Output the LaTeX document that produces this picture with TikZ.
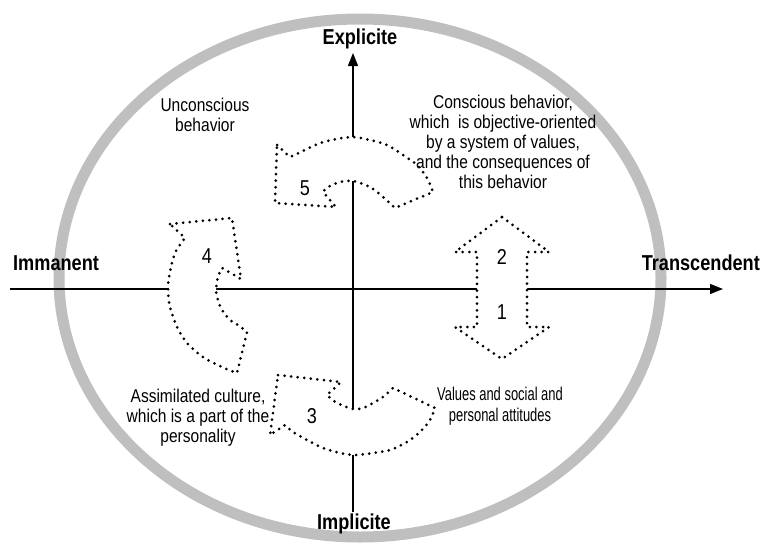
\documentclass[tikz,border=0pt]{standalone}
\usepackage{fontspec}
\setmainfont{Liberation Sans}[FakeStretch=0.84]
\newfontfamily\tightfont{Liberation Sans}[FakeStretch=0.70]
\usetikzlibrary{arrows.meta}

\tikzset{
  rim/.style={draw=black!25, line width=11pt},
  axis/.style={line width=1.4pt, -{Triangle[length=13pt,width=10pt]}},
  flowarrow/.style={draw=black, fill=white, line width=3pt, line cap=round,
    dash pattern=on 0pt off 6.6pt, line join=round},
  axislabel/.style={inner sep=0pt, font=\fontsize{21.6}{24}\selectfont\bfseries},
  note/.style={inner sep=0pt, align=center, font=\fontsize{18.5}{20}\selectfont},
  tightnote/.style={inner sep=0pt, align=center, font=\tightfont\fontsize{18.5}{21}\selectfont},
  num/.style={inner sep=0pt, font=\fontsize{21.5}{24}\selectfont},
}

\begin{document}
\begin{tikzpicture}[x=1pt, y=-1pt]
\useasboundingbox (0,0) rectangle (761,546);

% outer ring
\draw[rim] (360,278) ellipse [x radius=301, y radius=259];

% axes
\coordinate (west) at (10,289);
\coordinate (east) at (723,289);
\coordinate (south) at (353,512);
\coordinate (north) at (353,53);
\draw[axis] (west) -- (east);
\draw[axis] (south) -- (north);

% arrow 5 (upper curved arrow)
\path[flowarrow] (277,145) -- (290,157)
  -- plot[smooth] coordinates {(290,157) (303,151) (320,143) (337,139) (353,137) (370,140) (387,145) (403,155) (417,165) (427,178) (433,192)}
  -- (395,208)
  -- plot[smooth] coordinates {(395,208) (383,197) (370,187) (353,181) (340,182) (328,187) (323,192)}
  -- (336,207) -- (275,203) -- cycle;

% arrow 4 (left curved arrow)
\path[flowarrow] (170,224) -- (232,218) -- (241,279) -- (222,268)
  -- plot[smooth] coordinates {(222,268) (218,277) (216,290) (218,300) (222,310) (230,320) (238,325) (247,332)}
  -- (237,373)
  -- plot[smooth] coordinates {(237,373) (222,367) (203,357) (187,343) (177,327) (170,307) (168,290) (169,277) (172,263) (176,251) (185,238)}
  -- cycle;

% arrow 3 (lower curved arrow)
\path[flowarrow] (278,375) -- (341,382) -- (327,395)
  -- plot[smooth] coordinates {(327,395) (337,403) (353,409) (363,408) (373,403) (383,397) (393,388)}
  -- (435,408)
  -- plot[smooth] coordinates {(435,408) (430,420) (420,432) (407,442) (390,450) (373,453) (355,455) (340,453) (323,448) (307,440) (293,432) (285,425)}
  -- (270,435) -- cycle;

% double arrow 1/2
\path[flowarrow] (502,217) -- (549,252) -- (527,252) -- (527,327) -- (549,327)
  -- (502,359) -- (455,327) -- (477,327) -- (477,252) -- (455,252) -- cycle;

% axis labels
\node[axislabel, anchor=base] (explicite) at (360,44) {Explicite};
\node[axislabel, anchor=base] (implicite) at (354,529) {Implicite};
\node[axislabel, anchor=base west] (immanent) at (13,270) {Immanent};
\node[axislabel, anchor=base east] (transcendent) at (760,270) {Transcendent};

% numbers
\node[num, anchor=base] (n5) at (305,195) {5};
\node[num, anchor=base] (n4) at (207,263) {4};
\node[num, anchor=base] (n2) at (502,264) {2};
\node[num, anchor=base] (n1) at (502,319) {1};
\node[num, anchor=base] (n3) at (312,423) {3};

% quadrant notes
\node[note, anchor=north] (unconscious) at (205,97.5) {Unconscious\\behavior};
\node[note, anchor=north] (conscious) at (503,94.8) {Conscious behavior,\\which\ \ is objective-oriented\\by a system of values,\\and the consequences of\\this behavior};
\node[note, anchor=north] (assimilated) at (198,388.8) {Assimilated culture,\\which is a part of the\\personality};
\node[tightnote, anchor=north] (values) at (500,386.8) {Values and social and\\personal attitudes};
\end{tikzpicture}
\end{document}
